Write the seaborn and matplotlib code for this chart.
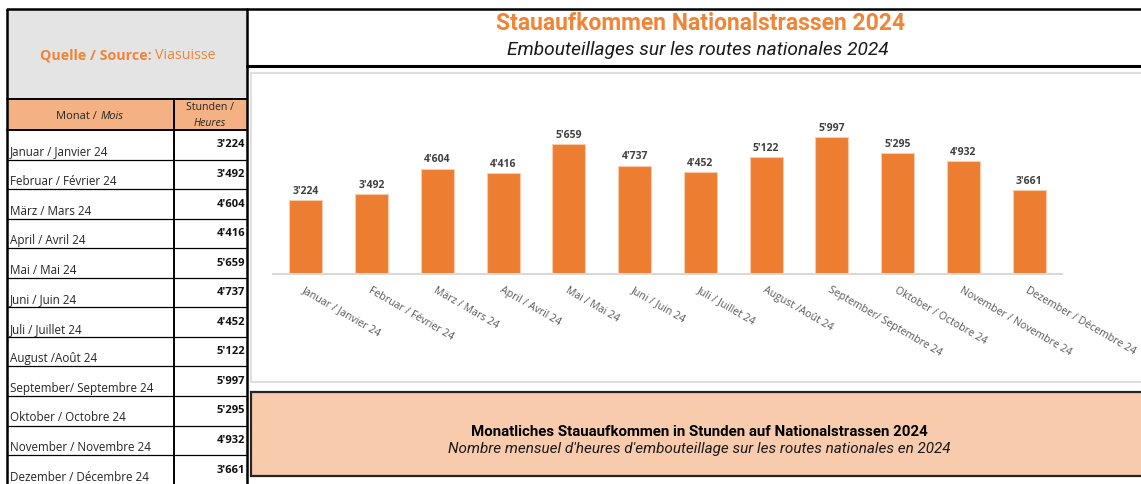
"""Stauaufkommen Nationalstrassen 2024 - table + bar chart."""
import matplotlib.pyplot as plt
import matplotlib.patches as mpatches
import pandas as pd
import seaborn as sns

MONTHS = [
    "Januar / Janvier 24",
    "Februar / Février 24",
    "März / Mars 24",
    "April / Avril 24",
    "Mai / Mai 24",
    "Juni / Juin 24",
    "Juli / Juillet 24",
    "August /Août 24",
    "September/ Septembre 24",
    "Oktober / Octobre 24",
    "November / Novembre 24",
    "Dezember / Décembre 24",
]
HOURS = [3224, 3492, 4604, 4416, 5659, 4737, 4452, 5122, 5997, 5295, 4932, 3661]

TITLE = "Stauaufkommen Nationalstrassen 2024"
SUBTITLE = "Embouteillages sur les routes nationales 2024"
FOOT_DE = "Monatliches Stauaufkommen in Stunden auf Nationalstrassen 2024"
FOOT_FR = "Nombre mensuel d'heures d'embouteillage sur les routes nationales en 2024"

ORANGE = "#ED7D31"
TITLE_ORANGE = "#F08537"
PEACH = "#F4B183"
LIGHT_PEACH = "#F8CBAD"
GRAY_BOX = "#E4E4E4"

W, H = 1141, 485


def fmt(v: int) -> str:
    return f"{v:,}".replace(",", "'")


sns.set_theme(style="white")
plt.rcParams["font.family"] = ["Open Sans", "DejaVu Sans"]

fig = plt.figure(figsize=(W / 100, H / 100), dpi=100)

# background canvas in pixel coordinates (top-left origin)
bg = fig.add_axes([0, 0, 1, 1])
bg.set_xlim(0, W)
bg.set_ylim(H, 0)
bg.axis("off")

# ---- left table ----
bg.add_patch(mpatches.Rectangle((7, 10), 240, 90, facecolor=GRAY_BOX, edgecolor="none"))
bg.add_patch(mpatches.Rectangle((7, 100), 240, 31, facecolor=PEACH, edgecolor="none"))
row_top, row_h = 131, 29.55
for x in (7, 247):
    bg.plot([x, x], [10, H], color="black", lw=1.8, solid_capstyle="butt")
bg.plot([7, 247], [10, 10], color="black", lw=1.8)
bg.plot([7, 247], [100, 100], color="black", lw=1.4)
bg.plot([7, 247], [131, 131], color="black", lw=1.4)
bg.plot([174, 174], [100, H], color="black", lw=1.4)
for i in range(1, len(MONTHS) + 1):
    y = row_top + i * row_h
    bg.plot([7, 247], [y, y], color="black", lw=0.9)

bg.text(152, 59, "Quelle / Source:", color=TITLE_ORANGE, fontsize=10.3,
        fontweight="bold", ha="right", va="baseline")
bg.text(155, 59, "Viasuisse", color=TITLE_ORANGE, fontsize=10.3,
        ha="left", va="baseline")
bg.text(100, 119, "Monat / ", fontsize=8, color="#262626", ha="right", va="baseline")
bg.text(101, 119, "Mois", fontsize=8, color="#262626", style="italic",
        ha="left", va="baseline")
bg.text(210, 108, "Stunden /", fontsize=7.6, color="#262626", ha="center", va="center")
bg.text(210, 124, "Heures", fontsize=7.6, color="#262626", style="italic",
        ha="center", va="center")

for i, (m, v) in enumerate(zip(MONTHS, HOURS)):
    top = row_top + i * row_h
    bg.text(10, top + 21, m, fontsize=8.4, color="#262626", ha="left", va="center")
    bg.text(245, top + 14, fmt(v), fontsize=8, fontweight="bold",
            color="#111111", ha="right", va="center")

# ---- title block ----
bg.plot([247, W], [10, 10], color="black", lw=1.8)
bg.plot([247, W], [66.5, 66.5], color="black", lw=2.2)
bg.text(700, 23, TITLE, color=TITLE_ORANGE, fontsize=16.5, fontweight="bold",
        ha="center", va="center", family=["Roboto", "DejaVu Sans"])
bg.text(698, 50, SUBTITLE, color="#1a1a1a", fontsize=13.8, style="italic",
        ha="center", va="center", family=["Roboto", "DejaVu Sans"])

# chart frame
bg.add_patch(mpatches.Rectangle((251, 74), 900, 309, facecolor="white",
                                edgecolor="#D9D9D9", lw=1.2))

# ---- footer box ----
bg.add_patch(mpatches.Rectangle((251, 393), 900, 84, facecolor=LIGHT_PEACH,
                                edgecolor="#262626", lw=1.6))
bg.text(699, 432, FOOT_DE, fontsize=10.8, fontweight="bold", color="black",
        ha="center", va="center", family=["Roboto", "DejaVu Sans"])
bg.text(699, 449, FOOT_FR, fontsize=11, style="italic", color="#1a1a1a",
        ha="center", va="center", family=["Roboto", "DejaVu Sans"])

# ---- bar chart ----
df = pd.DataFrame({"month": MONTHS, "hours": HOURS})
ymax = 7000
px_per_unit = 137.3 / 5997
ax_h = ymax * px_per_unit
ax = fig.add_axes([273 / W, (H - 275) / H, (1062 - 273) / W, ax_h / H])
ax.patch.set_alpha(0)
sns.barplot(data=df, x="month", y="hours", color=ORANGE, saturation=1,
            width=0.5, edgecolor=LIGHT_PEACH, linewidth=0.8, ax=ax)
ax.set_xlim(-0.5, len(MONTHS) - 0.5)
ax.set_ylim(0, ymax)
ax.bar_label(ax.containers[0], labels=[fmt(v) for v in HOURS], padding=3,
             fontsize=7.5, fontweight="bold", color="#404040")
ax.set_xlabel("")
ax.set_ylabel("")
ax.set_yticks([])
ax.tick_params(axis="x", length=0, pad=7)
ax.set_xticks(range(len(MONTHS)))
ax.set_xticklabels(MONTHS, rotation=-30, ha="left", va="top",
                   rotation_mode="anchor", fontsize=7.6, color="#595959")
for side in ("top", "left", "right"):
    ax.spines[side].set_visible(False)
ax.spines["bottom"].set_color("#D9D9D9")
ax.spines["bottom"].set_linewidth(1.5)

fig.savefig("out.png", dpi=100)
